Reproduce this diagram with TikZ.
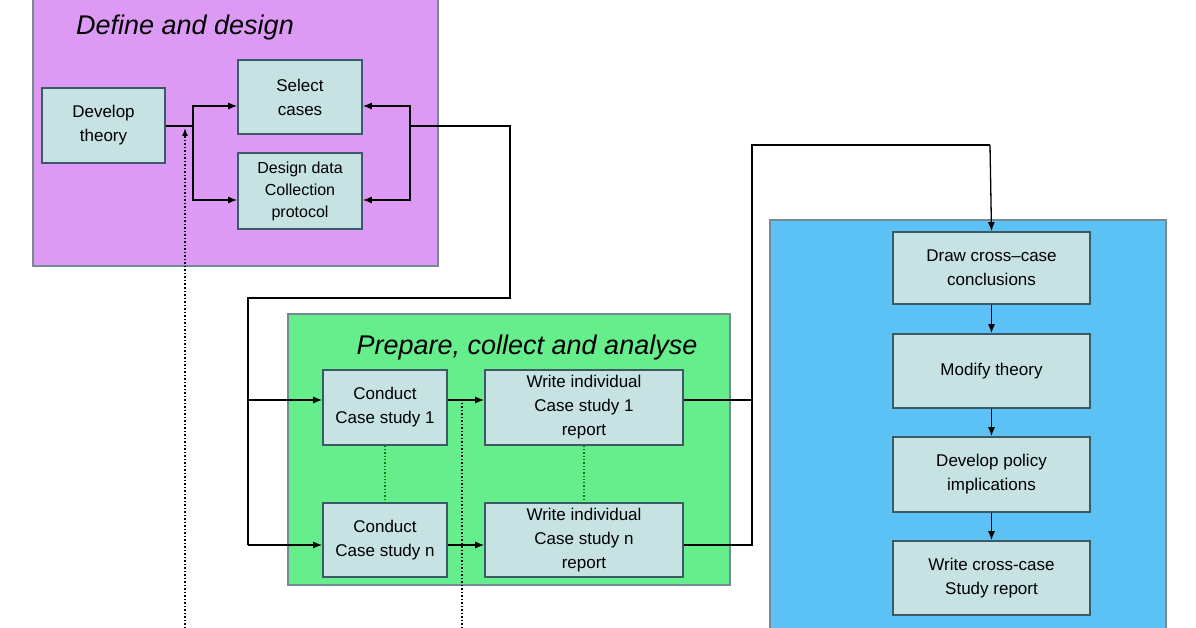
\documentclass[tikz,border=0pt]{standalone}
\usepackage{fontspec}
\setmainfont{Liberation Sans}
\usetikzlibrary{arrows.meta}
\definecolor{purplebg}{HTML}{DD9AF4}
\definecolor{greenbg}{HTML}{66EE8C}
\definecolor{bluebg}{HTML}{5CC2F6}
\definecolor{boxfill}{HTML}{C6E2E2}
\definecolor{boxline}{HTML}{3A5A66}
\tikzset{
  stage/.style={draw=boxline, line width=1.6pt, fill=boxfill, align=center, font=\fontsize{17}{24}\selectfont, inner sep=0pt},
  panel/.style={draw=boxline!70, line width=1.4pt},
  link/.style={line width=1.3pt, -{Latex[length=9pt,width=7pt]}},
  title/.style={font=\itshape\fontsize{27}{30}\selectfont}
}
\begin{document}
\begin{tikzpicture}[x=1pt,y=-1pt]
        \useasboundingbox (0,0) rectangle (1196,628);
        \fill[white] (0,0) rectangle (1196,628);
        % panels
        \draw[panel, fill=purplebg] (33,-5) rectangle (438,266);
        \draw[panel, fill=greenbg] (288,314) rectangle (730,585);
        \draw[panel, fill=bluebg] (770,220) rectangle (1166,640);
        \node[title] (tdef) at (185,28) {Define and design};
        \node[title] (tprep) at (527,348) {Prepare, collect and analyse};
        % stages
        \node[stage, minimum width=123pt, minimum height=75pt] (theory) at (103.5,125.5) {Develop\\theory};
        \node[stage, minimum width=124pt, minimum height=74pt] (select) at (300,97) {Select\\cases};
        \node[stage, minimum width=124pt, minimum height=76pt, font=\fontsize{16}{22}\selectfont] (design) at (300,191) {Design data\\Collection\\protocol};
        \node[stage, minimum width=124pt, minimum height=75pt] (conduct1) at (385,407.5) {Conduct\\Case study 1};
        \node[stage, minimum width=124pt, minimum height=74pt] (conductn) at (385,540) {Conduct\\Case study n};
        \node[stage, minimum width=198pt, minimum height=75pt] (write1) at (584,407.5) {Write individual\\Case study 1\\report};
        \node[stage, minimum width=198pt, minimum height=74pt] (writen) at (584,540) {Write individual\\Case study n\\report};
        \node[stage, minimum width=197pt, minimum height=72pt] (draw) at (991.5,268) {Draw cross--case\\conclusions};
        \node[stage, minimum width=197pt, minimum height=74pt] (modify) at (991.5,371) {Modify theory};
        \node[stage, minimum width=197pt, minimum height=75pt] (policy) at (991.5,474.5) {Develop policy\\implications};
        \node[stage, minimum width=197pt, minimum height=74pt] (report) at (991.5,578) {Write cross-case\\Study report};
        % junctions
        \coordinate (jl) at (193,126);
        \coordinate (jr) at (410,126);
        \coordinate (jv) at (752,400);
        \coordinate (dl) at (185,628);
        \coordinate (dm) at (462,628);
        % define and design
        \draw[line width=1.3pt] (theory.east |- jl) -- (jl);
        \draw[link] (jl) |- ([yshift=-9pt]select.west);
        \draw[link] (jl) |- ([yshift=-9pt]design.west);
        \draw[link] (jr) |- ([yshift=-9pt]select.east);
        \draw[link] (jr) |- ([yshift=-9pt]design.east);
        \draw[line width=1.3pt] (jr) -- (510,126) -- (510,298) -- (248,298) -- (248,545);
        \draw[link] (248,400) -- (conduct1.west |- 0,400);
        \draw[link] (248,545) -- (conductn.west |- 0,545);
        % prepare, collect and analyse
        \draw[link] (conduct1.east |- 0,400) -- (write1.west |- 0,400);
        \draw[link] (conductn.east |- 0,545) -- (writen.west |- 0,545);
        \draw[line width=1.3pt, dotted, green!50!black] (conduct1) -- (conductn);
        \draw[line width=1.3pt, dotted, green!50!black] (write1) -- (writen);
        \draw[line width=1.3pt] (write1.east |- jv) -- (jv);
        \draw[line width=1.3pt] (writen.east |- 0,545) -- (752,545) -- (752,145) -- (990,145);
        \draw[link] (990,145) -- (draw.north);
        % analyse and conclude
        \draw[link] (draw) -- (modify);
        \draw[link] (modify) -- (policy);
        \draw[link] (policy) -- (report);
        % feedback
        \draw[line width=1.5pt, dotted, -{Latex[length=8pt,width=6pt]}] (dl) -- (185,128);
        \draw[line width=1.5pt, dotted] (dm) -- (462,400);
    \end{tikzpicture}
\end{document}
